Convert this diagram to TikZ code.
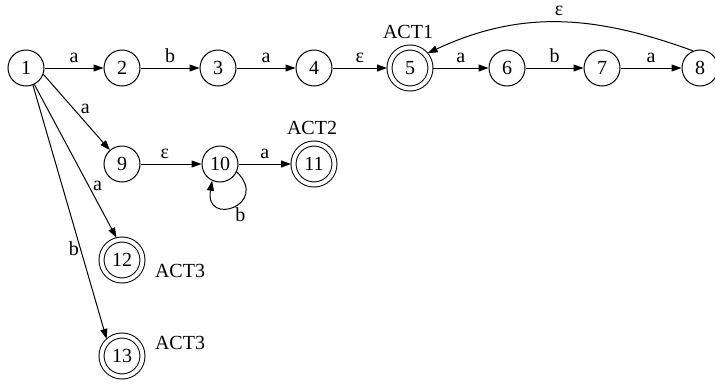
\documentclass[tikz,border=0pt]{standalone}
\usepackage{fontspec}
\setmainfont{Liberation Serif}
\usetikzlibrary{arrows.meta}

\begin{document}
\begin{tikzpicture}
      [%%%%%%%%%%%%%%%%%%%%%%%%%%%%%%
      x=1pt,y=1pt,
      every node/.style={font=\fontsize{20}{22}\selectfont},
      circ/.style={circle,draw=black,line width=1pt,minimum size=36pt,inner sep=0pt},
      dcirc/.style={circ,double,double distance=4pt,minimum size=41pt,outer sep=2.5pt},
      arr/.style={line width=1pt,-{Triangle[length=10pt,width=7pt]}},
      lab/.style={inner sep=1pt},
      toplab/.style={lab,anchor=base,yshift=6pt},
      ]%%%%%%%%%%%%%%%%%%%%%%%%%%%%%%

      \clip (0,0) rectangle (715,-383);

      \foreach \i/\x in {1/26,2/122,3/218,4/314,6/507,7/602,8/700}
        \node[circ] (s\i) at (\x,-68) {\i};
      \node[dcirc] (s5) at (410,-68) {5};
      \node[circ] (s9) at (122,-164) {9};
      \node[circ] (s10) at (220,-164) {10};
      \node[dcirc] (s11) at (314,-164) {11};
      \node[dcirc] (s12) at (122,-260) {12};
      \node[dcirc] (s13) at (122,-356) {13};

      \node (act1) at (408,-32) {ACT1};
      \node (act2) at (312,-128) {ACT2};
      \node (act3a) at (180,-271) {ACT3};
      \node (act3b) at (180,-343) {ACT3};

      \foreach \a/\b/\t in {1/2/a,2/3/b,3/4/a,4/5/ε,5/6/a,6/7/b,7/8/a}
        \draw[arr] (s\a) -- node[toplab,midway]{\t} (s\b);

      \draw[arr] (s1.-20) -- node[lab,pos=0.45,right=6pt]{a} (s9);
      \draw[arr] (s1.-63) -- node[lab,pos=0.66,right=3pt]{a} (s12.104);
      \draw[arr] (s1.-68) -- node[lab,pos=0.645,left=0pt]{b} (s13.132);

      \draw[arr] (s9) -- node[toplab,pos=0.4]{ε} (s10);
      \draw[arr] (s10) -- node[toplab,midway]{a} (s11);
      \draw[arr] (s10.-25) .. controls +(-45:47) and +(-100:47) .. (s10.-115)
        node[lab,pos=0.5,below right=0pt]{b};

      \draw[arr] (s8.112) to[out=160,in=25] node[lab,midway,above=5pt]{ε} (s5.40);
    \end{tikzpicture}
\end{document}
